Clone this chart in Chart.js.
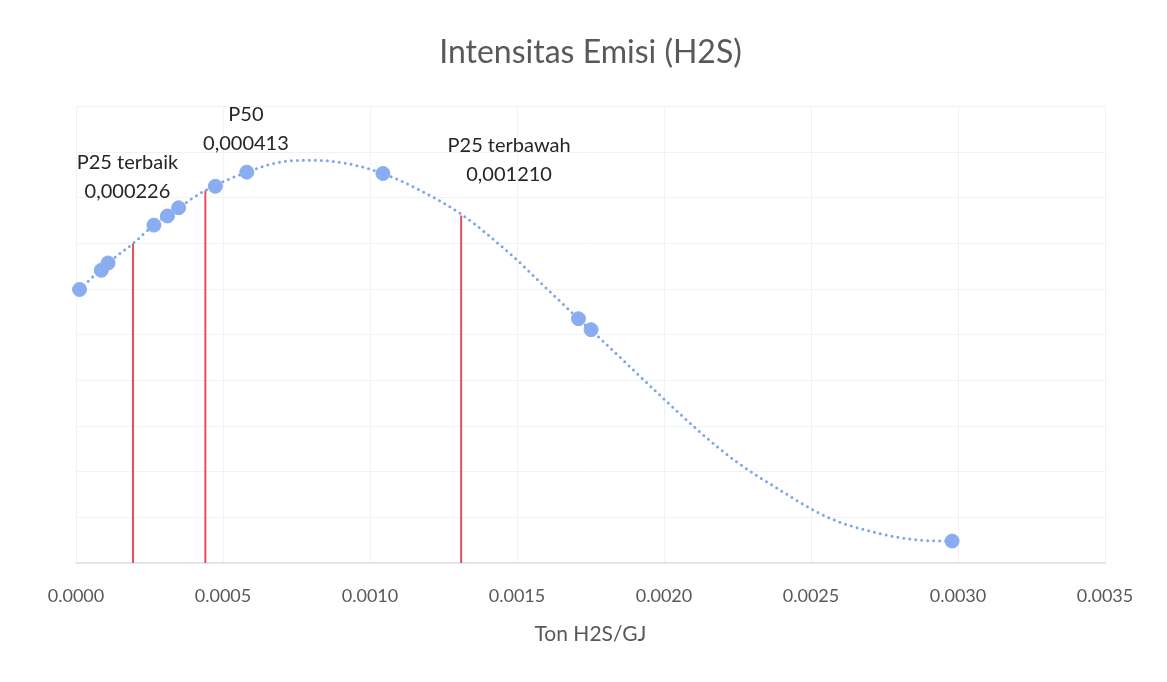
<!DOCTYPE html>
<html>
<head>
<meta charset="utf-8">
<title>Intensitas Emisi (H2S)</title>
<script src="https://cdn.jsdelivr.net/npm/chart.js@4"></script>
<style>
  body { margin: 0; background: #fff; }
  #wrap { width: 1167px; height: 682px; }
</style>
</head>
<body>
<div id="wrap"><canvas id="emisiChart" width="1167" height="682"></canvas></div>
<script>
// ------------------------------------------------------------
// DATA
// ------------------------------------------------------------

// measured points: x in Ton H2S/GJ, y in arbitrary density units
const pointX = [0.000012, 0.000086, 0.000109, 0.000265, 0.000311, 0.000349,
                0.000474, 0.000581, 0.001044, 0.001709, 0.001752, 0.002980];
const pointY = [5.99, 6.41, 6.57, 7.40, 7.60, 7.78,
                8.25, 8.56, 8.53, 5.35, 5.11, 0.48];

// dotted trend curve
const curveX = [0.000012, 0.000109, 0.000194, 0.000265, 0.000349, 0.000440, 0.000581,
                0.000694, 0.000806, 0.000921, 0.001044, 0.001159, 0.001310, 0.001482,
                0.001601, 0.001709, 0.001782, 0.001997, 0.002122, 0.002248, 0.002384,
                0.002554, 0.002724, 0.002871, 0.002980];
const curveY = [5.99, 6.57, 7.00, 7.40, 7.78, 8.16, 8.56,
                8.78, 8.82, 8.75, 8.53, 8.20, 7.64, 6.74,
                6.01, 5.35, 4.92, 3.61, 2.87, 2.21, 1.64,
                1.01, 0.66, 0.50, 0.48];

// red percentile markers
const markerX   = [0.000194, 0.000440, 0.001310];
const markerTop = [7.00, 8.16, 7.61];
const markerName  = ['P25 terbaik', 'P50', 'P25 terbawah'];
const markerValue = ['0,000226', '0,000413', '0,001210'];

// x axis ticks
const xTicks = [0, 0.0005, 0.001, 0.0015, 0.002, 0.0025, 0.003, 0.0035];

// ------------------------------------------------------------
// BUILD DATASETS
// ------------------------------------------------------------
const blue = '#89adf0';
const red  = '#e2505c';
const gray = '#595959';
const font = 'Lato, "Open Sans", sans-serif';

const points = pointX.map((x, i) => ({ x: x, y: pointY[i] }));
const curve  = curveX.map((x, i) => ({ x: x, y: curveY[i] }));

const markerSets = markerX.map((x, i) => ({
  data: [{ x: x, y: 0 }, { x: x, y: markerTop[i] }],
  showLine: true,
  borderColor: red,
  borderWidth: 2,
  pointRadius: 0,
  order: 3
}));

// where the label pairs sit (data units), one per marker
const labelAnchor = [
  { x: 0.000175, y: 8.78 },
  { x: 0.000578, y: 9.82 },
  { x: 0.001473, y: 9.15 }
];

// plugin that writes the percentile labels
const markerLabels = {
  id: 'markerLabels',
  afterDatasetsDraw(chart) {
    const c = chart.ctx;
    const xs = chart.scales.x, ys = chart.scales.y;
    c.save();
    c.font = '20px ' + font;
    c.fillStyle = '#262626';
    c.textAlign = 'center';
    c.textBaseline = 'middle';
    labelAnchor.forEach((a, i) => {
      const px = xs.getPixelForValue(a.x);
      const py = ys.getPixelForValue(a.y);
      c.fillText(markerName[i], px, py);
      c.fillText(markerValue[i], px, py + 29);
    });
    c.restore();
  }
};

// ------------------------------------------------------------
// CHART
// ------------------------------------------------------------
new Chart(document.getElementById('emisiChart'), {
  type: 'scatter',
  data: {
    datasets: [
      {
        data: points,
        backgroundColor: blue,
        borderColor: blue,
        pointRadius: 7,
        pointHoverRadius: 7,
        clip: false,
        order: 1
      },
      {
        data: curve,
        showLine: true,
        borderColor: '#7fa4ee',
        borderWidth: 3,
        borderDash: [0, 6],
        borderCapStyle: 'round',
        cubicInterpolationMode: 'monotone',
        pointRadius: 0,
        clip: false,
        order: 2
      },
      ...markerSets
    ]
  },
  options: {
    responsive: false,
    animation: false,
    layout: { padding: { left: 76, right: 62, top: 0, bottom: 35 } },
    plugins: {
      legend: { display: false },
      tooltip: { enabled: false },
      title: {
        display: true,
        text: 'Intensitas Emisi (H2S)',
        color: gray,
        font: { family: font, size: 32, weight: 'normal' },
        padding: { top: 33, bottom: 35 }
      }
    },
    scales: {
      x: {
        type: 'linear',
        min: 0,
        max: 0.0035,
        afterBuildTicks: (scale) => { scale.ticks = xTicks.map(v => ({ value: v })); },
        afterFit: (scale) => { scale.height = 84; },
        ticks: {
          color: gray,
          font: { family: font, size: 18 },
          padding: 22,
          maxRotation: 0,
          callback: (v) => Number(v).toFixed(4)
        },
        grid: { color: '#f1f2f6', drawTicks: false },
        border: { color: '#dfe2ec', width: 1.5 },
        title: {
          display: true,
          text: 'Ton H2S/GJ',
          color: gray,
          font: { family: font, size: 21 },
          padding: { top: 0, bottom: 0 }
        }
      },
      y: {
        min: 0,
        max: 10,
        ticks: { display: false, stepSize: 1 },
        grid: { color: '#f1f2f6', drawTicks: false },
        border: { display: false },
        afterFit: (scale) => { scale.width = 0; }
      }
    }
  },
  plugins: [markerLabels]
});
</script>
</body>
</html>
